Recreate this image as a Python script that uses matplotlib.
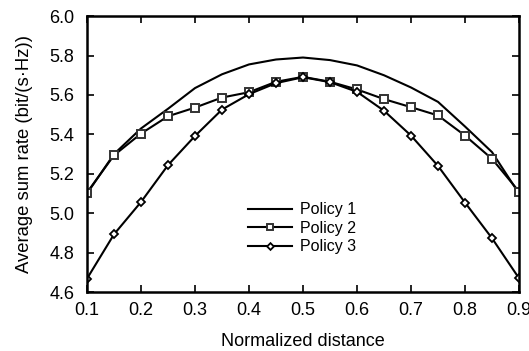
import numpy as np
import matplotlib
matplotlib.use("Agg")
import matplotlib.pyplot as plt

plt.rcParams["font.family"] = ["Liberation Sans", "DejaVu Sans"]

# normalized distance
dist = [0.1, 0.15, 0.2, 0.25, 0.3, 0.35, 0.4, 0.45, 0.5,
        0.55, 0.6, 0.65, 0.7, 0.75, 0.8, 0.85, 0.9]

policy1 = [5.10, 5.30, 5.43, 5.53, 5.635, 5.705, 5.755, 5.78, 5.79,
           5.777, 5.75, 5.70, 5.638, 5.565, 5.44, 5.31, 5.10]
policy2 = [5.105, 5.294, 5.404, 5.492, 5.536, 5.587, 5.614, 5.667, 5.692,
           5.667, 5.628, 5.579, 5.538, 5.496, 5.394, 5.276, 5.11]
policy3 = [4.668, 4.893, 5.057, 5.244, 5.392, 5.526, 5.604, 5.66, 5.69,
           5.665, 5.616, 5.52, 5.394, 5.24, 5.054, 4.873, 4.67]

fig = plt.figure(figsize=(5.29, 3.51), dpi=100)
ax = fig.add_axes([0.1645, 0.168, 0.8166, 0.786])

ax.plot(dist, policy1, color="black", lw=1.5, label="Policy 1")
ax.plot(dist, policy2, color="black", lw=1.5, marker="s", ms=5.8,
        mfc="white", mec="#333333", mew=1.4, label="Policy 2")
ax.plot(dist, policy3, color="black", lw=1.5, marker="D", ms=4.3,
        mfc="white", mec="black", mew=1.3, label="Policy 3")

ax.set_xlim(0.1, 0.9)
ax.set_ylim(4.6, 6.0)
ax.set_xticks(np.arange(0.1, 0.91, 0.1))
ax.set_yticks(np.arange(4.6, 6.01, 0.2))
ax.xaxis.set_major_formatter(plt.FormatStrFormatter("%.1f"))
ax.yaxis.set_major_formatter(plt.FormatStrFormatter("%.1f"))
ax.tick_params(direction="in", top=True, right=True, length=5, width=1.2,
               labelsize=13)
ax.tick_params(axis="x", pad=7)
ax.tick_params(axis="y", pad=9)
for s in ax.spines.values():
    s.set_linewidth(1.8)

ax.set_xlabel("Normalized distance", fontsize=13, labelpad=10)
ax.set_ylabel("Average sum rate (bit/(s\u00b7Hz))", fontsize=13.3, labelpad=12)

leg = ax.legend(loc="upper left", bbox_to_anchor=(0.373, 0.325), frameon=False,
                fontsize=11.5, handlelength=2.75, handletextpad=0.5,
                labelspacing=0.22, borderpad=0, borderaxespad=0,
                markerscale=0.8)

fig.savefig("out.png", dpi=100)
